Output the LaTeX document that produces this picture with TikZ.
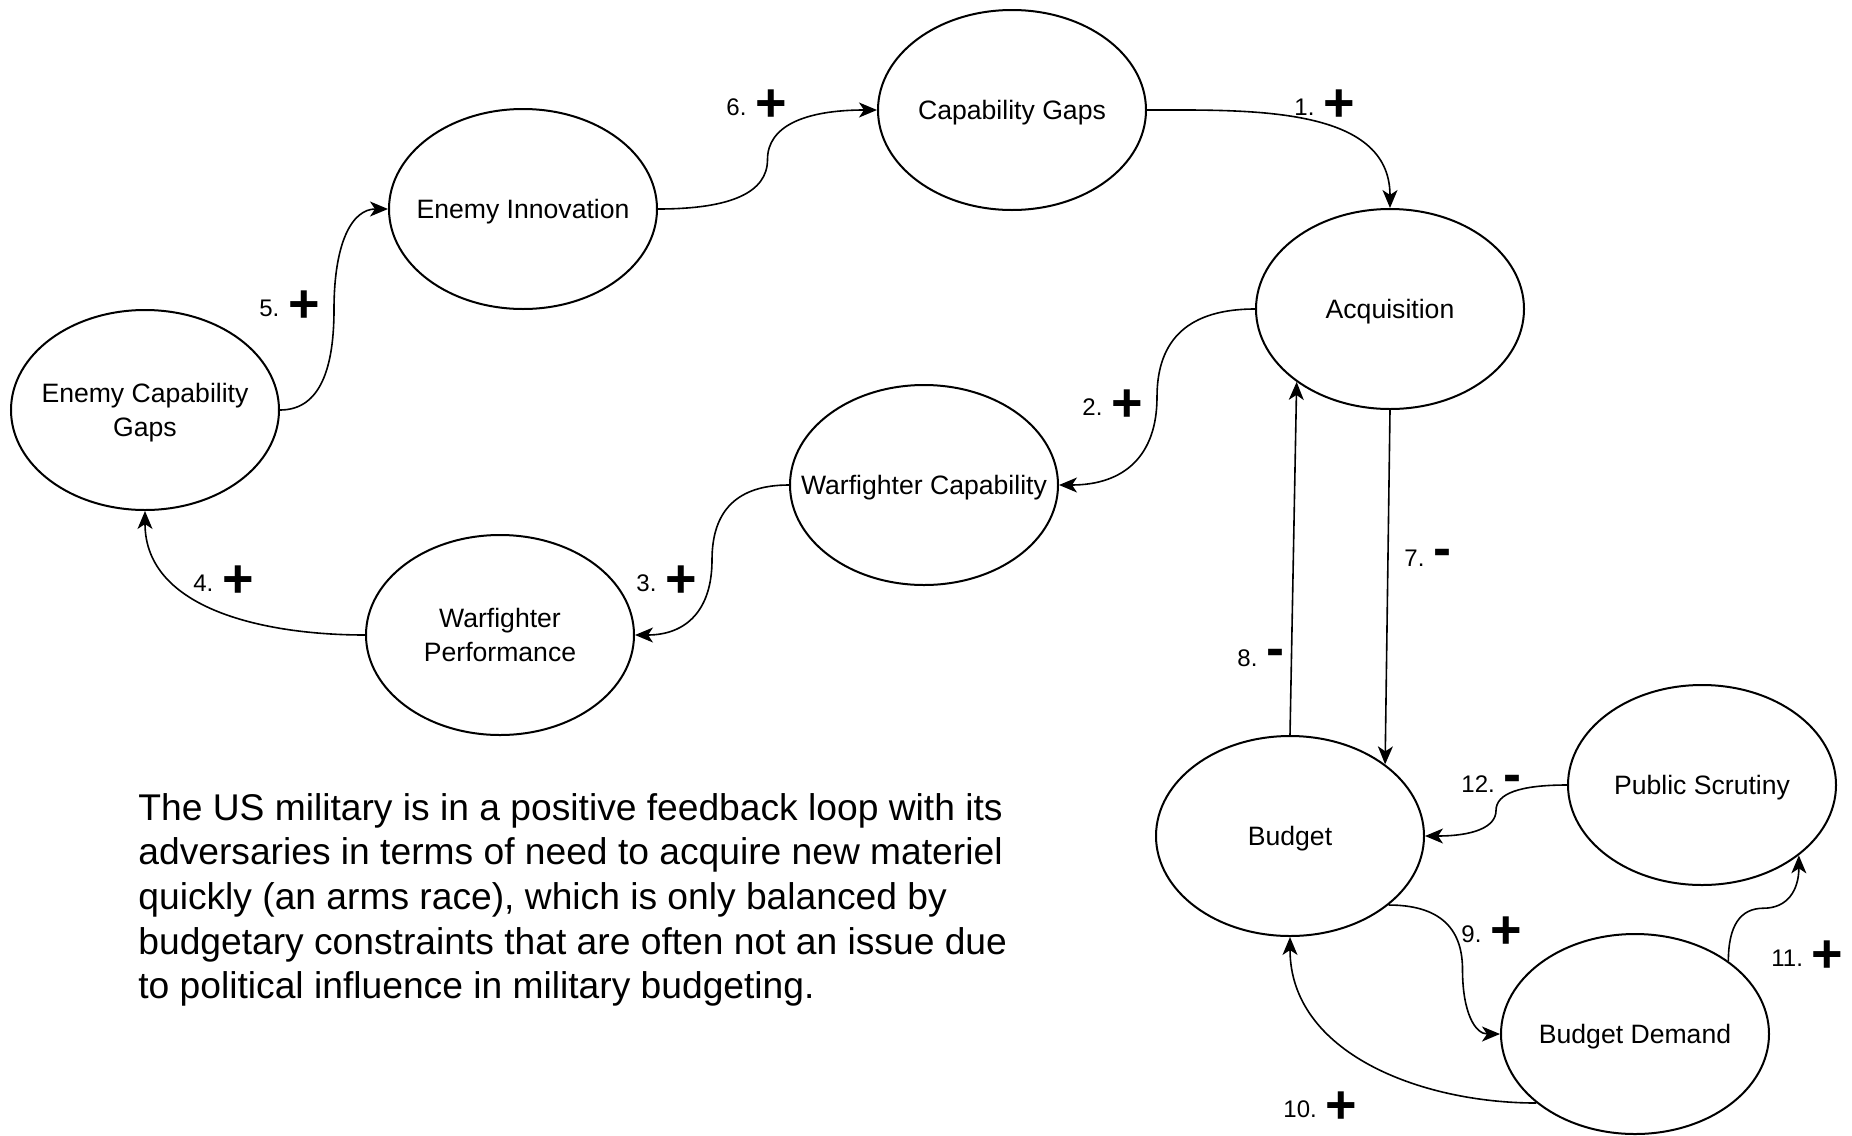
\documentclass[tikz,border=0pt]{standalone}
\usepackage{fontspec}
\setmainfont{Liberation Sans}
\usetikzlibrary{arrows.meta, shapes.geometric, calc}

\newcommand{\signp}{\raisebox{-3pt}{\fontsize{27}{27}\selectfont\bfseries +}}
\newcommand{\signm}{{\fontsize{27}{27}\selectfont\bfseries -}}

\begin{document}
\begin{tikzpicture}[
    x=0.5pt, y=-0.5pt,
    >={Stealth[length=9pt, width=7.5pt, inset=2.5pt]},
    var/.style={ellipse, draw, line width=1pt, minimum width=134pt, minimum height=100pt,
                inner xsep=-30pt, inner ysep=0pt, text depth=0pt, align=center,
                font=\fontsize{13.3}{17}\selectfont},
    lbl/.style={anchor=base west, inner sep=0pt, font=\fontsize{12}{14}\selectfont},
    note/.style={anchor=north west, inner sep=0pt, align=left,
                 font=\fontsize{18.6}{22.3}\selectfont},
    link/.style={->, line width=0.8pt},
    hvh/.default={$(\tikztostart)!0.5!(\tikztotarget)$},
    hvh/.style={to path={let \p1=(\tikztostart), \p2=(\tikztotarget), \p3=(#1) in
      .. controls ({(\x1+2*\x3)/3},\y1) and (\x3,{(5*\y1+\y2)/6}) .. (\x3,{(\y1+\y2)/2})
      .. controls (\x3,{(\y1+5*\y2)/6}) and ({(\x2+2*\x3)/3},\y2) .. (\p2)}},
    vhv/.default={$(\tikztostart)!0.5!(\tikztotarget)$},
    vhv/.style={to path={let \p1=(\tikztostart), \p2=(\tikztotarget), \p3=(#1) in
      .. controls (\x1,{(\y1+2*\y3)/3}) and ({(5*\x1+\x2)/6},\y3) .. ({(\x1+\x2)/2},\y3)
      .. controls ({(\x1+5*\x2)/6},\y3) and (\x2,{(\y2+2*\y3)/3}) .. (\p2)}}
]
  \useasboundingbox (0,0) rectangle (1852,1135);

  % nodes
  \node[var] (CG)  at (1012,110)  {Capability Gaps};
  \node[var] (EI)  at (523,209)   {Enemy Innovation};
  \node[var] (Acq) at (1390,309)  {Acquisition};
  \node[var] (ECG) at (145,410)   {Enemy Capability\\Gaps};
  \node[var] (WC)  at (924,485)   {Warfighter Capability};
  \node[var] (WP)  at (500,635)   {Warfighter\\Performance};
  \node[var] (Bud) at (1290,836)  {Budget};
  \node[var] (PS)  at (1702,785)  {Public Scrutiny};
  \node[var] (BD)  at (1635,1034) {Budget Demand};

  % text
  \node[note] (txt) at (138,793) {The US military is in a positive feedback loop with its\\
    adversaries in terms of need to acquire new materiel\\
    quickly (an arms race), which is only balanced by\\
    budgetary constraints that are often not an issue due\\
    to political influence in military budgeting.};

  % edges
  \draw[link] (CG.east) to[out=0, in=90] (Acq.north);
  \draw[link] (Acq.west) to[hvh] (WC.east);
  \draw[link] (WC.west) to[hvh] (WP.east);
  \draw[link] (WP.west) to[out=180, in=-90] (ECG.south);
  \draw[link] (ECG.east) to[hvh] (EI.west);
  \draw[link] (EI.east) to[hvh] (CG.west);
  \draw[link] (Acq.south) -- (Bud.37);
  \draw[link] (Bud.north) -- (Acq.218);
  \draw[link] (Bud.-35) to[hvh={$(Bud.east)!0.5!(BD.west)$}] (BD.west);
  \draw[link] (BD.215) to[out=180, in=-90] (Bud.south);
  \draw[link] (BD.38) to[vhv] (PS.-36);
  \draw[link] (PS.west) to[hvh] (Bud.east);

  % signs
  \node[lbl] (l1)  at (1294,115)  {1. \signp};
  \node[lbl] (l2)  at (1082,415)  {2. \signp};
  \node[lbl] (l3)  at (636,591)   {3. \signp};
  \node[lbl] (l4)  at (193,591)   {4. \signp};
  \node[lbl] (l5)  at (259,316)   {5. \signp};
  \node[lbl] (l6)  at (726,115)   {6. \signp};
  \node[lbl] (l7)  at (1404,566)  {7. \signm};
  \node[lbl] (l8)  at (1237,666)  {8. \signm};
  \node[lbl] (l9)  at (1461,942)  {9. \signp};
  \node[lbl] (l10) at (1283,1117) {10. \signp};
  \node[lbl] (l11) at (1771,966)  {11. \signp};
  \node[lbl] (l12) at (1461,792)  {12. \signm};
\end{tikzpicture}
\end{document}
